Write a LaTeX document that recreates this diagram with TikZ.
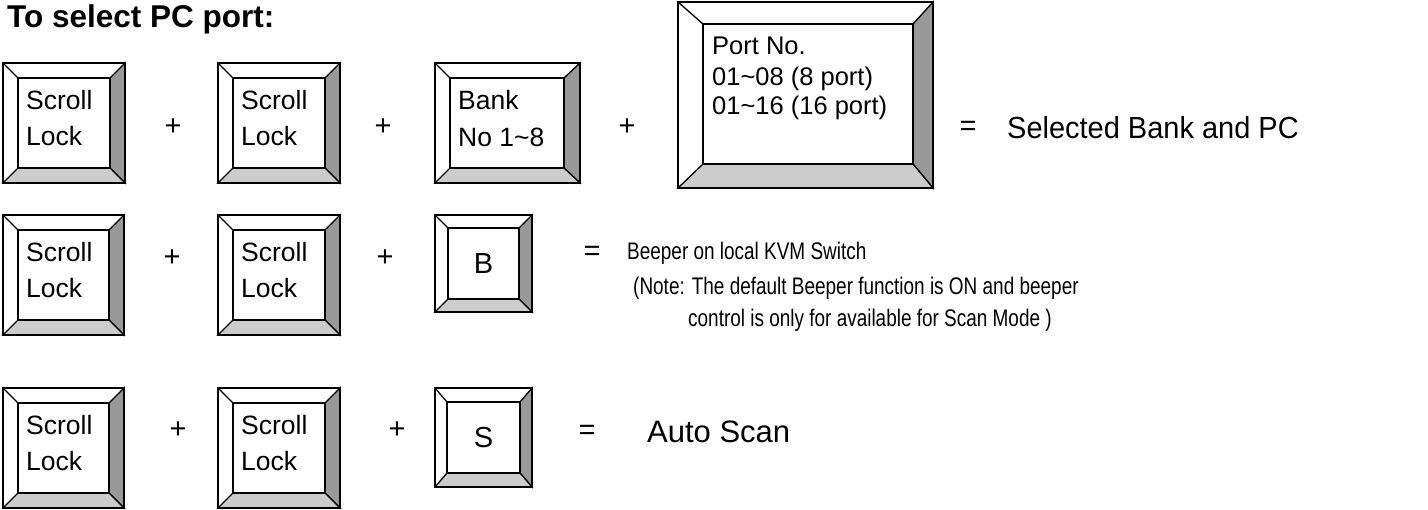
\documentclass[tikz,border=0pt]{standalone}
\usepackage{fontspec}
\setmainfont{Liberation Sans}
\usepackage{graphicx}
\definecolor{keydark}{HTML}{999999}
\definecolor{keylight}{HTML}{CCCCCC}
\newcommand\KeyCap[8]{%
  \fill[white] (#1,#2) rectangle (#3,#4);
  \filldraw[fill=keydark,keyline] (#3,#2) -- (#7,#6) -- (#7,#8) -- (#3,#4) -- cycle;
  \filldraw[fill=keylight,keyline] (#1,#4) -- (#5,#8) -- (#7,#8) -- (#3,#4) -- cycle;
  \draw[keyline] (#1,#2) -- (#5,#6);
  \draw[keyline] (#1,#2) rectangle (#3,#4);
  \draw[keyline] (#5,#6) rectangle (#7,#8);
}
\begin{document}
\begin{tikzpicture}[x=1pt,y=-1pt,
  keyline/.style={line width=1.3pt,line join=miter},
  keytxt/.style={anchor=base west,inner sep=0pt,font=\fontsize{26.5}{26.5}\selectfont},
  porttxt/.style={anchor=base west,inner sep=0pt,font=\fontsize{25.5}{25.5}\selectfont},
  op/.style={inner sep=0pt,font=\fontsize{29}{29}\selectfont},
  big/.style={anchor=west,inner sep=0pt,font=\fontsize{30.5}{30.5}\selectfont},
  narrowtxt/.style={anchor=west,inner sep=0pt,font=\fontsize{24}{24}\selectfont}]
\useasboundingbox (0,0) rectangle (1428,510);
\node[anchor=base west,inner sep=0pt,font=\bfseries\fontsize{31.5}{31.5}\selectfont] (title) at (7,28) {To select PC port:};

% Row 1
\KeyCap{3}{63}{125}{183}{18}{78}{110}{168}
\node[keytxt] (r1a1) at (26,110) {Scroll};
\node[keytxt] (r1a2) at (26,146) {Lock};
\node[op] (r1p1) at (173,127) {+};
\KeyCap{218}{63}{340}{183}{233}{78}{325}{168}
\node[keytxt] (r1b1) at (241,110) {Scroll};
\node[keytxt] (r1b2) at (241,146) {Lock};
\node[op] (r1p2) at (383,127) {+};
\KeyCap{435}{63}{580}{183}{450}{78}{564}{168}
\node[keytxt] (r1c1) at (458,110) {Bank};
\node[keytxt] (r1c2) at (458,147) {No 1\string~8};
\node[op] (r1p3) at (627,127) {+};
\KeyCap{678}{2}{933}{188}{703}{24}{913}{164}
\node[porttxt] (r1d1) at (712,55) {Port No.};
\node[porttxt] (r1d2) at (712,86) {01\string~08 (8 port)};
\node[porttxt] (r1d3) at (712,115) {01\string~16 (16 port)};
\node[op] (r1eq) at (968,128) {=};
\node[big] (r1res) at (1007,128) {\scalebox{0.95}[1]{Selected Bank and PC}};

% Row 2
\KeyCap{3}{215}{124}{335}{18}{230}{109}{320}
\node[keytxt] (r2a1) at (26,262) {Scroll};
\node[keytxt] (r2a2) at (26,298) {Lock};
\node[op] (r2p1) at (172,258) {+};
\KeyCap{218}{215}{340}{335}{233}{230}{325}{320}
\node[keytxt] (r2b1) at (241,262) {Scroll};
\node[keytxt] (r2b2) at (241,298) {Lock};
\node[op] (r2p2) at (385,258) {+};
\KeyCap{435}{215}{532}{312}{448}{228}{519}{299}
\node[op] (r2c) at (483.5,263.5) {B};
\node[op] (r2eq) at (592,253) {=};
\node[narrowtxt] (r2res) at (627,253) {\scalebox{0.79}[1]{Beeper on local KVM Switch}};
\node[narrowtxt] (r2n1) at (633,288) {\scalebox{0.79}[1]{(Note: The default Beeper function is ON and beeper}};
\node[narrowtxt] (r2n2) at (688,320) {\scalebox{0.79}[1]{control is only for available for Scan Mode )}};

% Row 3
\KeyCap{3}{388}{124}{508}{18}{403}{109}{493}
\node[keytxt] (r3a1) at (26,435) {Scroll};
\node[keytxt] (r3a2) at (26,471) {Lock};
\node[op] (r3p1) at (178,430) {+};
\KeyCap{218}{388}{340}{508}{233}{403}{325}{493}
\node[keytxt] (r3b1) at (241,435) {Scroll};
\node[keytxt] (r3b2) at (241,471) {Lock};
\node[op] (r3p2) at (397,430) {+};
\KeyCap{435}{388}{532}{487}{447}{402}{520}{473}
\node[op] (r3c) at (483.5,437.5) {S};
\node[op] (r3eq) at (587,432) {=};
\node[big,font=\fontsize{31}{31}\selectfont] (r3res) at (647,432) {Auto Scan};
\end{tikzpicture}
\end{document}
